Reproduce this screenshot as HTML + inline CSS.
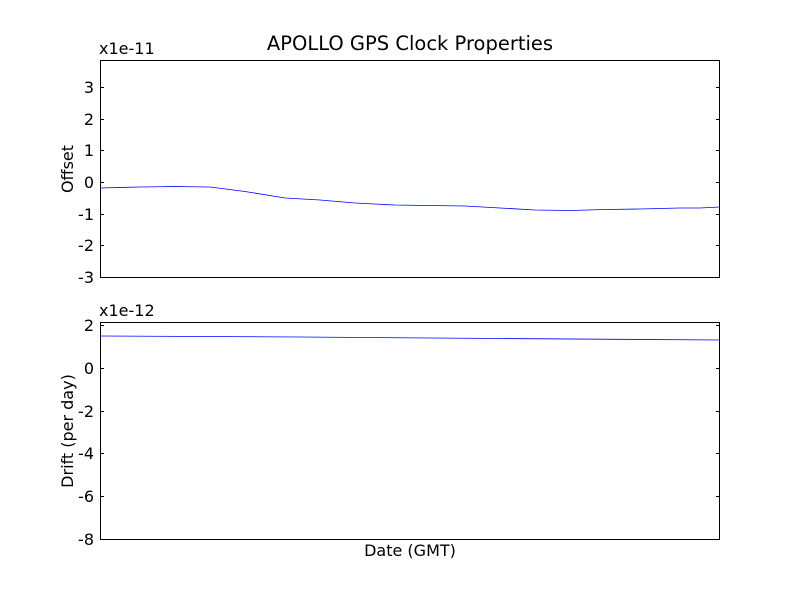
<!DOCTYPE html>
<html><head><meta charset="utf-8"><style>body{margin:0;background:#fff}svg{display:block}</style></head>
<body>
<svg width="800" height="600" viewBox="0 0 800 600" xmlns="http://www.w3.org/2000/svg" font-family="'DejaVu Sans','Liberation Sans',sans-serif" font-size="16">
<rect width="800" height="600" fill="#fff"/>
<text x="410" y="50" text-anchor="middle" font-size="19.5">APOLLO GPS Clock Properties</text>
<rect x="100.5" y="60.5" width="619" height="217" fill="none" stroke="#000"/>
<g stroke="#000">
<line x1="100" y1="87.5" x2="104" y2="87.5"/><line x1="716" y1="87.5" x2="720" y2="87.5"/>
<line x1="100" y1="119.5" x2="104" y2="119.5"/><line x1="716" y1="119.5" x2="720" y2="119.5"/>
<line x1="100" y1="150.5" x2="104" y2="150.5"/><line x1="716" y1="150.5" x2="720" y2="150.5"/>
<line x1="100" y1="182.5" x2="104" y2="182.5"/><line x1="716" y1="182.5" x2="720" y2="182.5"/>
<line x1="100" y1="214.5" x2="104" y2="214.5"/><line x1="716" y1="214.5" x2="720" y2="214.5"/>
<line x1="100" y1="245.5" x2="104" y2="245.5"/><line x1="716" y1="245.5" x2="720" y2="245.5"/>
</g>
<g text-anchor="end">
<text x="94" y="93">3</text><text x="94" y="125">2</text><text x="94" y="156">1</text>
<text x="94" y="188">0</text><text x="94" y="220">-1</text><text x="94" y="251">-2</text><text x="94" y="283">-3</text>
</g>
<text x="99" y="54">x1e-11</text>
<text transform="translate(73,169) rotate(-90)" text-anchor="middle">Offset</text>
<polyline fill="none" stroke="#00f" stroke-width="0.8" points="100,188 140,187 175,186.5 210,187 245,191.5 285,198 320,200 355,203 395,205 430,205.5 465,206 500,208 535,210 570,210.5 605,209.5 640,209 680,208 700,208 720,207"/>
<rect x="100.5" y="322.5" width="619" height="217" fill="none" stroke="#000"/>
<g stroke="#000">
<line x1="100" y1="325.5" x2="104" y2="325.5"/><line x1="716" y1="325.5" x2="720" y2="325.5"/>
<line x1="100" y1="368.5" x2="104" y2="368.5"/><line x1="716" y1="368.5" x2="720" y2="368.5"/>
<line x1="100" y1="411.5" x2="104" y2="411.5"/><line x1="716" y1="411.5" x2="720" y2="411.5"/>
<line x1="100" y1="453.5" x2="104" y2="453.5"/><line x1="716" y1="453.5" x2="720" y2="453.5"/>
<line x1="100" y1="496.5" x2="104" y2="496.5"/><line x1="716" y1="496.5" x2="720" y2="496.5"/>
</g>
<g text-anchor="end">
<text x="94" y="331">2</text><text x="94" y="374">0</text><text x="94" y="417">-2</text>
<text x="94" y="459">-4</text><text x="94" y="502">-6</text><text x="94" y="545">-8</text>
</g>
<text x="99" y="316">x1e-12</text>
<text transform="translate(73,431) rotate(-90)" text-anchor="middle">Drift (per day)</text>
<polyline fill="none" stroke="#00f" stroke-width="0.8" points="100,336 300,337 500,338.5 720,340"/>
<text x="410" y="556" text-anchor="middle">Date (GMT)</text>
</svg>
</body></html>
